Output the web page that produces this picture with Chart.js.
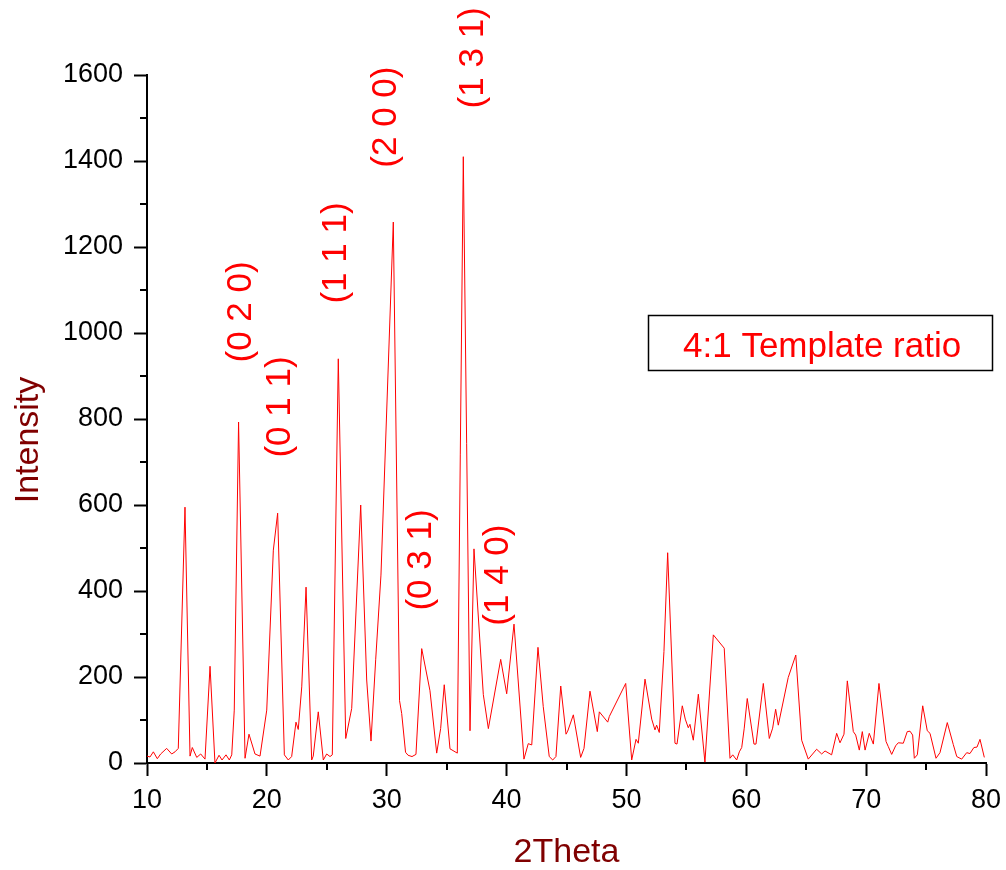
<!DOCTYPE html>
<html>
<head>
<meta charset="utf-8">
<script src="https://cdn.jsdelivr.net/npm/chart.js@4.4.1/dist/chart.umd.min.js"></script>
<style>
  html, body { margin: 0; padding: 0; background: #fff; }
  #wrap { width: 1006px; height: 870px; }
</style>
</head>
<body>
<div id="wrap"><canvas id="xrd" width="1006" height="870"></canvas></div>
<script>
// Datos del difractograma (2Theta / Intensity)
const twoTheta = [
  10.00, 10.25, 10.53, 10.86, 11.14, 11.64, 12.06, 12.34, 12.61, 13.17,
  13.59, 13.78, 14.15, 14.48, 14.84, 15.26, 15.67, 16.01, 16.26, 16.59,
  16.87, 17.07, 17.28, 17.64, 18.18, 18.51, 19.01, 19.43, 19.99, 20.54,
  20.90, 21.46, 21.79, 22.07, 22.43, 22.62, 22.91, 23.27, 23.74, 23.87,
  24.29, 24.71, 24.99, 25.27, 25.46, 25.96, 26.58, 27.08, 27.83, 28.33,
  28.69, 29.08, 29.52, 30.55, 31.07, 31.25, 31.57, 31.78, 32.11, 32.44,
  32.92, 33.61, 34.17, 34.50, 34.80, 35.28, 35.89, 36.39, 36.95, 37.28,
  38.06, 38.48, 39.51, 40.01, 40.62, 41.45, 41.81, 42.10, 42.62, 43.06,
  43.56, 43.85, 44.12, 44.52, 44.96, 45.10, 45.57, 46.18, 46.46, 46.96,
  47.57, 47.74, 48.44, 48.57, 49.94, 50.44, 50.80, 50.99, 51.55, 52.11,
  52.38, 52.52, 52.74, 53.13, 53.44, 54.05, 54.22, 54.66, 54.91, 55.16,
  55.30, 55.58, 56.00, 56.55, 57.25, 58.16, 58.64, 58.87, 59.20, 59.42,
  59.62, 59.83, 60.08, 60.64, 60.81, 61.42, 61.92, 62.20, 62.45, 62.67,
  63.50, 64.13, 64.62, 65.17, 65.87, 66.29, 66.57, 67.12, 67.54, 67.82,
  68.15, 68.43, 68.93, 69.13, 69.43, 69.68, 69.91, 70.26, 70.60, 71.07,
  71.66, 71.85, 72.13, 72.46, 72.68, 73.10, 73.43, 73.66, 73.88, 74.02,
  74.27, 74.72, 75.10, 75.33, 75.83, 76.16, 76.77, 77.27, 77.56, 77.97,
  78.39, 78.66, 78.99, 79.25, 79.50, 79.86
];
const intensity = [
  16, 14, 26, 10, 21, 34, 21, 26, 34, 595,
  16, 36, 13, 21, 9, 225, 0, 18, 7, 19,
  7, 19, 123, 793, 11, 67, 21, 16, 123, 495,
  581, 19, 7, 15, 95, 78, 177, 409, 7, 16,
  119, 7, 21, 15, 19, 940, 57, 127, 600, 193,
  51, 240, 437, 1258, 145, 115, 25, 18, 15, 20,
  266, 168, 23, 80, 182, 33, 23, 1410, 75, 498,
  159, 80, 241, 161, 323, 9, 45, 42, 269, 131,
  15, 7, 15, 179, 67, 74, 112, 13, 34, 167,
  73, 119, 95, 108, 185, 7, 55, 46, 195, 102,
  77, 88, 71, 259, 489, 46, 44, 133, 102, 82,
  90, 53, 160, 2, 298, 267, 11, 19, 7, 26,
  36, 81, 150, 44, 44, 185, 57, 81, 125, 88,
  199, 251, 53, 9, 32, 21, 28, 19, 69, 47,
  67, 191, 73, 65, 30, 73, 30, 69, 44, 185,
  50, 38, 20, 40, 47, 46, 73, 74, 65, 11,
  19, 133, 75, 69, 11, 24, 94, 43, 15, 9,
  24, 22, 36, 37, 55, 13
];
const seriesName = '4:1 Template ratio';
const hklLabels = ['(0 2 0)', '(0 1 1)', '(1 1 1)', '(2 0 0)', '(1 3 1)', '(0 3 1)', '(1 4 0)'];

// posiciones de las etiquetas (en coordenadas de datos)
const hklPos = [
  { x: 17.88, y: 1049 }, { x: 21.10, y: 828 }, { x: 25.77, y: 1186 },
  { x: 29.94, y: 1502 }, { x: 37.20, y: 1640 }, { x: 32.86, y: 472 },
  { x: 39.28, y: 437 }
];

const FONT = '"Liberation Sans", Arial, sans-serif';
const RED = '#ff0000';
const TITLE = '#800000';

const overlay = {
  id: 'overlay',
  afterDraw(chart) {
    const ctx = chart.ctx;
    const xs = chart.scales.x, ys = chart.scales.y;
    const area = chart.chartArea;
    ctx.save();

    // ticks menores
    ctx.strokeStyle = '#000';
    ctx.lineWidth = 2;
    ctx.beginPath();
    for (let v = 100; v < 1600; v += 200) {
      const p = Math.round(ys.getPixelForValue(v));
      ctx.moveTo(area.left - 7, p); ctx.lineTo(area.left, p);
    }
    for (let v = 15; v < 80; v += 10) {
      const p = Math.round(xs.getPixelForValue(v));
      ctx.moveTo(p, area.bottom); ctx.lineTo(p, area.bottom + 7);
    }
    ctx.stroke();

    // títulos de los ejes
    ctx.fillStyle = TITLE;
    ctx.font = '34px ' + FONT;
    ctx.textAlign = 'center';
    ctx.textBaseline = 'alphabetic';
    ctx.fillText('2Theta', (area.left + area.right) / 2, 862);
    ctx.save();
    ctx.translate(38, 440);
    ctx.rotate(-Math.PI / 2);
    ctx.fillText('Intensity', 0, 0);
    ctx.restore();

    // índices de Miller
    ctx.fillStyle = RED;
    ctx.font = '35px ' + FONT;
    ctx.textBaseline = 'middle';
    hklLabels.forEach((t, i) => {
      ctx.save();
      ctx.translate(xs.getPixelForValue(hklPos[i].x), ys.getPixelForValue(hklPos[i].y));
      ctx.rotate(-Math.PI / 2);
      ctx.fillText(t, 0, 0);
      ctx.restore();
    });

    // leyenda
    ctx.strokeStyle = '#000';
    ctx.lineWidth = 1.5;
    ctx.strokeRect(648.5, 315.5, 344, 55);
    ctx.fillStyle = RED;
    ctx.font = '35px ' + FONT;
    ctx.textAlign = 'left';
    ctx.textBaseline = 'alphabetic';
    ctx.fillText(seriesName, 683, 357);
    ctx.restore();
  }
};

const points = twoTheta.map((t, i) => ({ x: t, y: intensity[i] }));

const config = {
  type: 'line',
  data: {
    datasets: [{
      label: seriesName,
      data: points,
      borderColor: RED,
      borderWidth: 1,
      pointRadius: 0,
      tension: 0,
      fill: false
    }]
  },
  options: {
    responsive: false,
    animation: false,
    layout: { padding: { left: 0, right: 20, top: 75, bottom: 0 } },
    plugins: { legend: { display: false }, tooltip: { enabled: false } },
    scales: {
      x: {
        type: 'linear',
        min: 10, max: 80,
        afterFit: (s) => { s.height = 107; s.paddingLeft = 0; s.paddingRight = 0; },
        border: { display: true, color: '#000', width: 2 },
        grid: { drawOnChartArea: false, drawTicks: true, tickLength: 13, tickWidth: 2, tickColor: '#000' },
        ticks: { stepSize: 10, color: '#000', font: { family: FONT, size: 27 }, padding: 8, maxRotation: 0,
                 callback: (v) => String(v) }
      },
      y: {
        min: 0, max: 1600,
        afterFit: (s) => { s.width = 147; s.paddingTop = 0; s.paddingBottom = 0; },
        border: { display: true, color: '#000', width: 2 },
        grid: { drawOnChartArea: false, drawTicks: true, tickLength: 13, tickWidth: 2, tickColor: '#000' },
        ticks: { stepSize: 200, color: '#000', font: { family: FONT, size: 27 }, padding: 11,
                 callback: (v) => String(v) }
      }
    }
  },
  plugins: [overlay]
};

new Chart(document.getElementById('xrd'), config);
</script>
</body>
</html>
